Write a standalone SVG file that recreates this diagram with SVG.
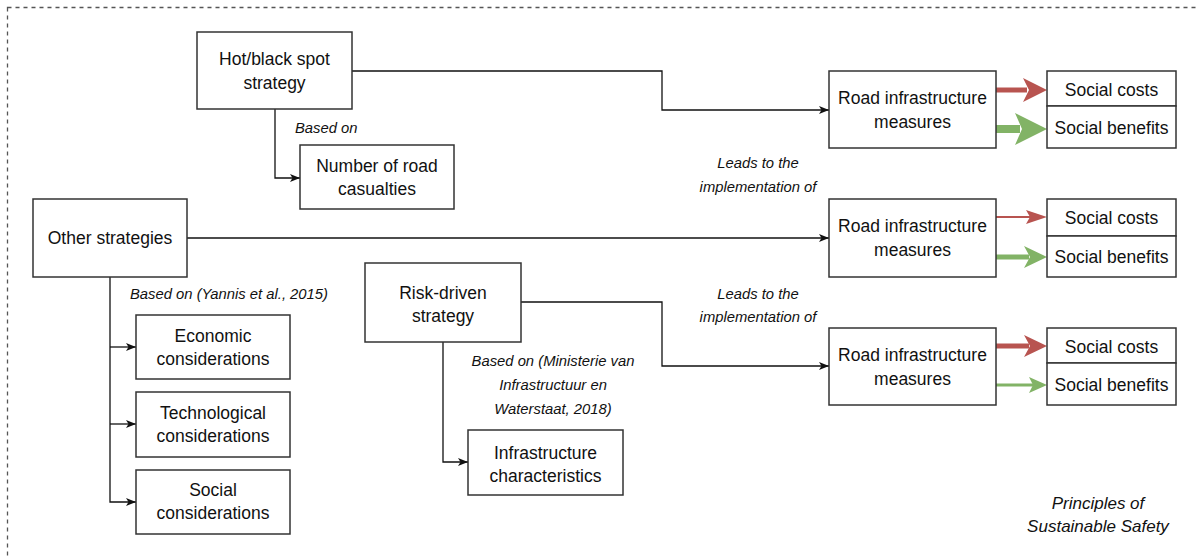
<svg xmlns="http://www.w3.org/2000/svg" width="1197" height="558" viewBox="0 0 1197 558">
  <style>
    .box { fill: #ffffff; stroke: #333333; stroke-width: 1.5; }
    .lbl { font-family: "Liberation Sans", Arial, sans-serif; font-size: 17.5px; fill: #111111; text-anchor: middle; }
    .note { font-family: "Liberation Sans", Arial, sans-serif; font-size: 14.8px; font-style: italic; fill: #111111; }
    .big { font-size: 17px; }
    .mid { text-anchor: middle; }
    .wire { fill: none; stroke: #111111; stroke-width: 1.3; }
    .red { fill: #b85450; }
    .green { fill: #82b366; }
    .redline { stroke: #b85450; fill: none; }
    .greenline { stroke: #82b366; fill: none; }
  </style>
  <defs>
    <marker id="arrow" viewBox="0 0 10 8" refX="10" refY="4" markerWidth="10" markerHeight="8" markerUnits="userSpaceOnUse" orient="auto">
      <path d="M0,0 L10,4 L0,8 L2.5,4 z" fill="#111111"/>
    </marker>
  </defs>

  <!-- dashed frame (continues past the right and bottom edges) -->
  <rect x="7.5" y="7.5" width="1200" height="570" fill="none" stroke="#555555" stroke-width="1.3" stroke-dasharray="4 4"/>

  <!-- connectors -->
  <g id="connectors">
    <path class="wire" d="M352,71 H662 V110 H829" marker-end="url(#arrow)"/>
    <path class="wire" d="M275,109 V178 H300" marker-end="url(#arrow)"/>
    <path class="wire" d="M187,238 H829" marker-end="url(#arrow)"/>
    <path class="wire" d="M110,277 V502 H136" marker-end="url(#arrow)"/>
    <path class="wire" d="M110,347 H136" marker-end="url(#arrow)"/>
    <path class="wire" d="M110,424 H136" marker-end="url(#arrow)"/>
    <path class="wire" d="M521,302 H662 V366 H829" marker-end="url(#arrow)"/>
    <path class="wire" d="M443,342 V462 H468" marker-end="url(#arrow)"/>

    <!-- cost / benefit arrows, first measure -->
    <line class="redline" x1="996" y1="90" x2="1027" y2="90" stroke-width="5"/>
    <polygon class="red" points="1047,90 1023,78 1029,90 1023,102"/>
    <line class="greenline" x1="996" y1="129" x2="1020" y2="129" stroke-width="8"/>
    <polygon class="green" points="1047,129 1015,113 1022,129 1015,145"/>

    <!-- cost / benefit arrows, second measure -->
    <line class="redline" x1="996" y1="217" x2="1031" y2="217" stroke-width="2"/>
    <polygon class="red" points="1047,217 1026,210 1030,217 1026,224"/>
    <line class="greenline" x1="996" y1="257" x2="1029" y2="257" stroke-width="5"/>
    <polygon class="green" points="1047,257 1024,246 1030,257 1024,268"/>

    <!-- cost / benefit arrows, third measure -->
    <line class="redline" x1="996" y1="346" x2="1029" y2="346" stroke-width="5"/>
    <polygon class="red" points="1047,346 1024,335 1030,346 1024,357"/>
    <line class="greenline" x1="996" y1="385" x2="1033" y2="385" stroke-width="3"/>
    <polygon class="green" points="1047,385 1029,377 1033,385 1029,393"/>
  </g>

  <!-- connector labels -->
  <g id="labels">
    <text class="note" x="295" y="133">Based on</text>
    <text class="note" x="130" y="299">Based on (Yannis et al., 2015)</text>
    <text class="note mid" x="553" y="366">Based on (Ministerie van</text>
    <text class="note mid" x="553" y="390">Infrastructuur en</text>
    <text class="note mid" x="553" y="414">Waterstaat, 2018)</text>
    <text class="note mid" x="758" y="168">Leads to the</text>
    <text class="note mid" x="758" y="192">implementation of</text>
    <text class="note mid" x="758" y="299">Leads to the</text>
    <text class="note mid" x="758" y="322">implementation of</text>
    <text class="note mid big" x="1098" y="509">Principles of</text>
    <text class="note mid big" x="1098" y="532">Sustainable Safety</text>
  </g>

  <g id="hotspot">
    <rect class="box" x="197" y="32" width="155" height="77"/>
    <text class="lbl" x="274.5" y="65">Hot/black spot</text>
    <text class="lbl" x="274.5" y="89">strategy</text>
  </g>

  <g id="casualties">
    <rect class="box" x="300" y="145" width="154" height="64"/>
    <text class="lbl" x="377" y="172">Number of road</text>
    <text class="lbl" x="377" y="195">casualties</text>
  </g>

  <g id="other">
    <rect class="box" x="33" y="199" width="154" height="78"/>
    <text class="lbl" x="110" y="244">Other strategies</text>
  </g>

  <g id="economic">
    <rect class="box" x="136" y="315" width="154" height="64"/>
    <text class="lbl" x="213" y="342">Economic</text>
    <text class="lbl" x="213" y="365">considerations</text>
  </g>

  <g id="technological">
    <rect class="box" x="136" y="392" width="154" height="65"/>
    <text class="lbl" x="213" y="419">Technological</text>
    <text class="lbl" x="213" y="442">considerations</text>
  </g>

  <g id="social">
    <rect class="box" x="136" y="470" width="154" height="64"/>
    <text class="lbl" x="213" y="496">Social</text>
    <text class="lbl" x="213" y="519">considerations</text>
  </g>

  <g id="riskdriven">
    <rect class="box" x="365" y="263" width="156" height="79"/>
    <text class="lbl" x="443" y="299">Risk-driven</text>
    <text class="lbl" x="443" y="322">strategy</text>
  </g>

  <g id="infrachar">
    <rect class="box" x="468" y="430" width="155" height="65"/>
    <text class="lbl" x="545.5" y="459">Infrastructure</text>
    <text class="lbl" x="545.5" y="482">characteristics</text>
  </g>

  <g id="measures1">
    <rect class="box" x="829" y="71" width="167" height="77"/>
    <text class="lbl" x="912.5" y="104">Road infrastructure</text>
    <text class="lbl" x="912.5" y="128">measures</text>
  </g>
  <g id="costs1">
    <rect class="box" x="1047" y="71" width="129" height="35"/>
    <text class="lbl" x="1111.5" y="96">Social costs</text>
  </g>
  <g id="benefits1">
    <rect class="box" x="1047" y="106" width="129" height="42"/>
    <text class="lbl" x="1111.5" y="134">Social benefits</text>
  </g>

  <g id="measures2">
    <rect class="box" x="829" y="199" width="167" height="78"/>
    <text class="lbl" x="912.5" y="232">Road infrastructure</text>
    <text class="lbl" x="912.5" y="256">measures</text>
  </g>
  <g id="costs2">
    <rect class="box" x="1047" y="199" width="129" height="37"/>
    <text class="lbl" x="1111.5" y="224">Social costs</text>
  </g>
  <g id="benefits2">
    <rect class="box" x="1047" y="236" width="129" height="41"/>
    <text class="lbl" x="1111.5" y="263">Social benefits</text>
  </g>

  <g id="measures3">
    <rect class="box" x="829" y="328" width="167" height="77"/>
    <text class="lbl" x="912.5" y="361">Road infrastructure</text>
    <text class="lbl" x="912.5" y="385">measures</text>
  </g>
  <g id="costs3">
    <rect class="box" x="1047" y="328" width="129" height="35"/>
    <text class="lbl" x="1111.5" y="353">Social costs</text>
  </g>
  <g id="benefits3">
    <rect class="box" x="1047" y="363" width="129" height="42"/>
    <text class="lbl" x="1111.5" y="391">Social benefits</text>
  </g>
</svg>
